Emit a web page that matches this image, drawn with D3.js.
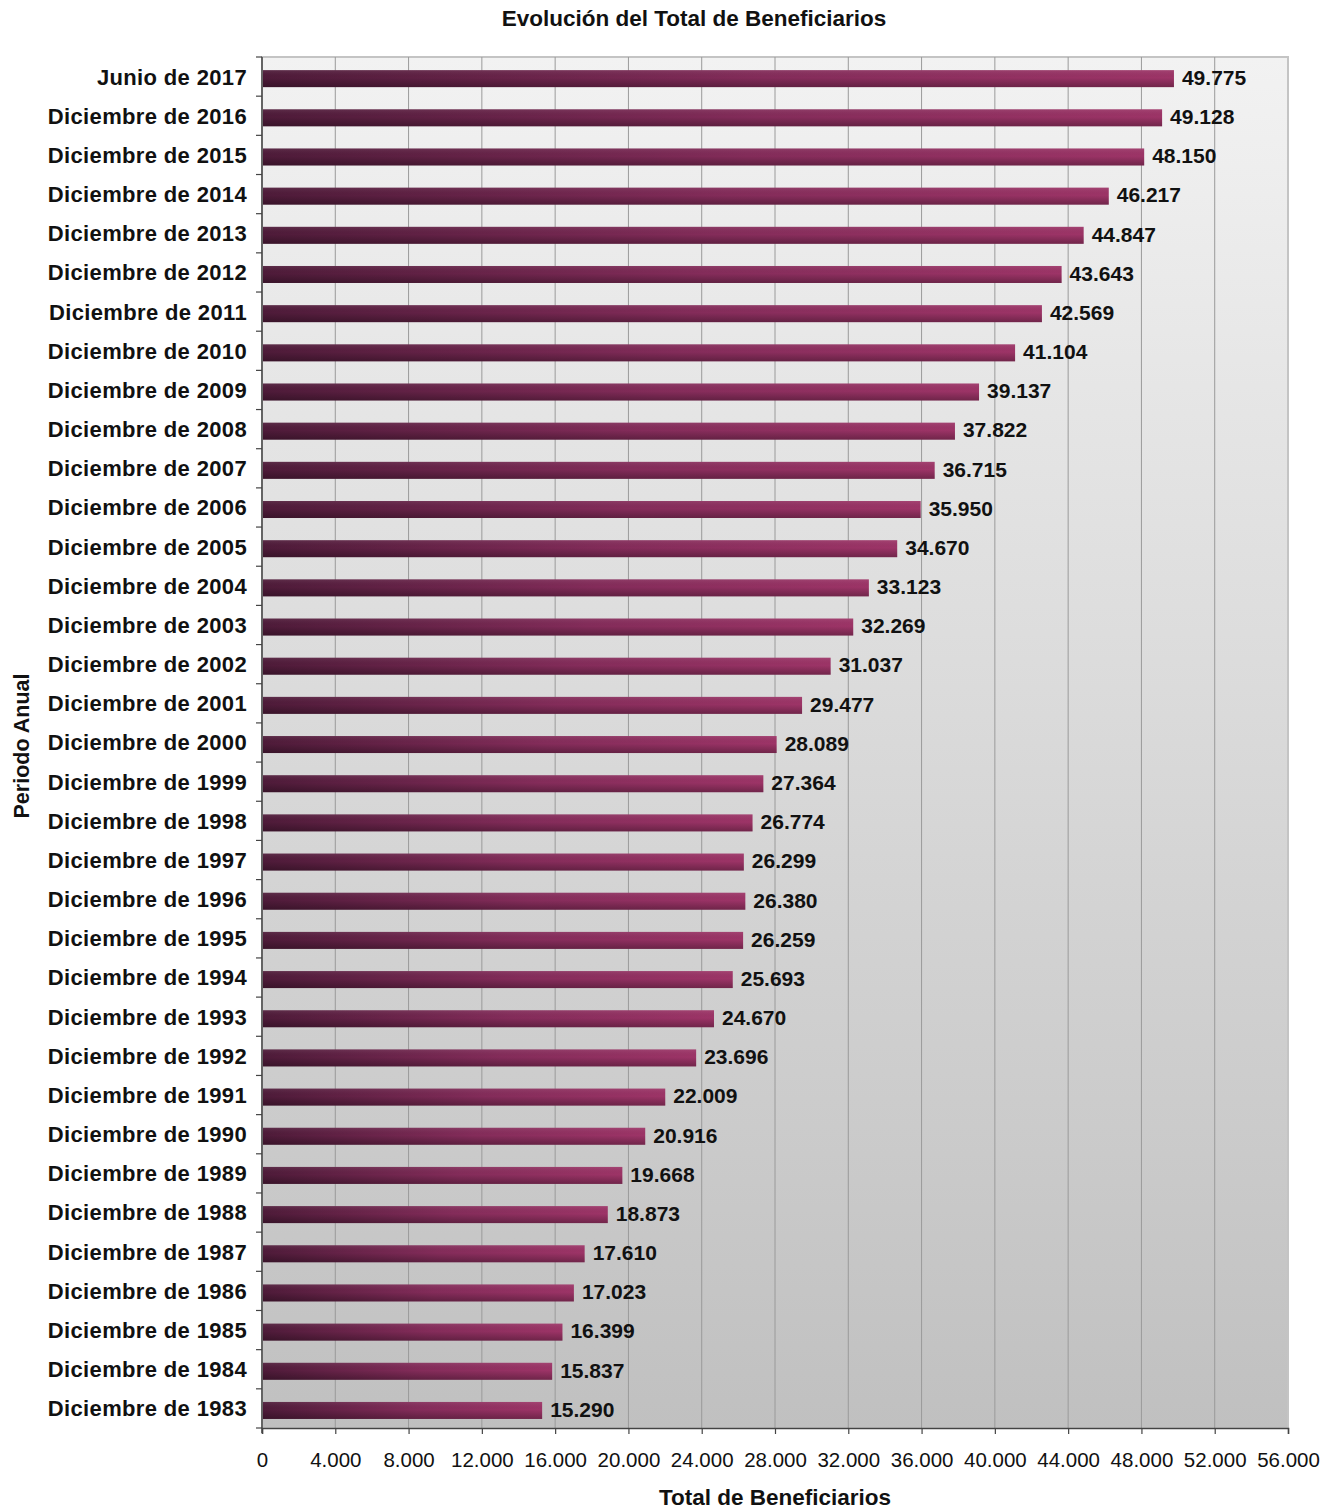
<!DOCTYPE html>
<meta charset="utf-8">
<style>
body { margin: 0; background: #fff; }
svg { font-family: "Liberation Sans", Arial, sans-serif; }
</style>
<body>
<div id="chart"></div>
<script src="https://d3js.org/d3.v7.min.js"></script>
<script>

var width = 1341,
    height = 1512;

var margin = {top: 57, right: 53, bottom: 84, left: 262};

var categories = ["Junio de 2017", "Diciembre de 2016", "Diciembre de 2015", "Diciembre de 2014",
    "Diciembre de 2013", "Diciembre de 2012", "Diciembre de 2011", "Diciembre de 2010",
    "Diciembre de 2009", "Diciembre de 2008", "Diciembre de 2007", "Diciembre de 2006",
    "Diciembre de 2005", "Diciembre de 2004", "Diciembre de 2003", "Diciembre de 2002",
    "Diciembre de 2001", "Diciembre de 2000", "Diciembre de 1999", "Diciembre de 1998",
    "Diciembre de 1997", "Diciembre de 1996", "Diciembre de 1995", "Diciembre de 1994",
    "Diciembre de 1993", "Diciembre de 1992", "Diciembre de 1991", "Diciembre de 1990",
    "Diciembre de 1989", "Diciembre de 1988", "Diciembre de 1987", "Diciembre de 1986",
    "Diciembre de 1985", "Diciembre de 1984", "Diciembre de 1983"];

var values = [49775, 49128, 48150, 46217, 44847, 43643, 42569, 41104, 39137, 37822,
    36715, 35950, 34670, 33123, 32269, 31037, 29477, 28089, 27364, 26774,
    26299, 26380, 26259, 25693, 24670, 23696, 22009, 20916, 19668, 18873,
    17610, 17023, 16399, 15837, 15290];

var xTicks = [0, 4000, 8000, 12000, 16000, 20000, 24000, 28000, 32000, 36000,
    40000, 44000, 48000, 52000, 56000];

var data = categories.map(function(c, i) { return {name: c, value: values[i]}; });

var plotW = width - margin.left - margin.right,
    plotH = height - margin.top - margin.bottom;

var svg = d3.select("#chart").append("svg")
    .attr("width", width)
    .attr("height", height);

var defs = svg.append("defs");

var bg = defs.append("linearGradient").attr("id", "bg")
    .attr("x1", 0).attr("y1", 0).attr("x2", 0).attr("y2", 1);
bg.append("stop").attr("offset", "0%").attr("stop-color", "#f2f2f2");
bg.append("stop").attr("offset", "100%").attr("stop-color", "#c0c0c0");

var barGrad = defs.append("linearGradient").attr("id", "barGrad")
    .attr("x1", 0).attr("y1", 0).attr("x2", 1).attr("y2", 0);
barGrad.append("stop").attr("offset", "0%").attr("stop-color", "#4e1b39");
barGrad.append("stop").attr("offset", "55%").attr("stop-color", "#842c5a");
barGrad.append("stop").attr("offset", "100%").attr("stop-color", "#9d3467");

var shade = defs.append("linearGradient").attr("id", "shade")
    .attr("x1", 0).attr("y1", 0).attr("x2", 0).attr("y2", 1);
shade.append("stop").attr("offset", "0%").attr("stop-color", "#fff").attr("stop-opacity", 0.08);
shade.append("stop").attr("offset", "45%").attr("stop-color", "#000").attr("stop-opacity", 0);
shade.append("stop").attr("offset", "100%").attr("stop-color", "#000").attr("stop-opacity", 0.28);

var x = d3.scaleLinear()
    .domain([0, 56000])
    .range([0, plotW]);

var y = d3.scaleBand()
    .domain(categories)
    .range([0, plotH])
    .padding(0);

var fmt = function(v) { return d3.format(",")(v).replace(/,/g, "."); };

var g = svg.append("g")
    .attr("transform", "translate(" + margin.left + "," + margin.top + ")");

// plot background
g.append("rect")
    .attr("width", plotW)
    .attr("height", plotH)
    .attr("fill", "url(#bg)")
    .attr("stroke", "#c4c4c4")
    .attr("stroke-width", 2);

// gridlines
g.selectAll(".grid")
    .data(xTicks.slice(1, -1))
  .enter().append("line")
    .attr("x1", function(d) { return x(d); })
    .attr("x2", function(d) { return x(d); })
    .attr("y1", 0)
    .attr("y2", plotH)
    .attr("stroke", "#9a9a9a")
    .attr("stroke-width", 1);

var bh = y.bandwidth() * 0.434,
    boff = y.bandwidth() * 0.335;

var bars = g.selectAll(".bar")
    .data(data)
  .enter().append("g");

bars.append("rect")
    .attr("x", 1)
    .attr("y", function(d) { return y(d.name) + boff; })
    .attr("width", function(d) { return x(d.value) - 1; })
    .attr("height", bh)
    .attr("fill", "url(#barGrad)");

bars.append("rect")
    .attr("x", 1)
    .attr("y", function(d) { return y(d.name) + boff; })
    .attr("width", function(d) { return x(d.value) - 1; })
    .attr("height", bh)
    .attr("fill", "url(#shade)");

bars.append("text")
    .attr("x", function(d) { return x(d.value) + 8; })
    .attr("y", function(d) { return y(d.name) + boff + bh / 2; })
    .attr("dy", "0.3em")
    .attr("font-size", "21px")
    .attr("font-weight", "bold")
    .attr("fill", "#111")
    .text(function(d) { return fmt(d.value); });

// category labels
g.selectAll(".cat")
    .data(categories)
  .enter().append("text")
    .attr("x", -15)
    .attr("y", function(d) { return y(d) + y.bandwidth() / 2; })
    .attr("dy", "0.36em")
    .attr("text-anchor", "end")
    .attr("font-size", "22px")
    .attr("font-weight", "bold")
    .attr("letter-spacing", "0.35px")
    .attr("fill", "#111")
    .text(function(d) { return d; });

// left axis with ticks at band boundaries
g.append("line")
    .attr("x1", 0).attr("x2", 0)
    .attr("y1", 0).attr("y2", plotH + 5)
    .attr("stroke", "#444").attr("stroke-width", 1.5);

g.selectAll(".ytick")
    .data(categories)
  .enter().append("line")
    .attr("x1", -6).attr("x2", 0)
    .attr("y1", function(d) { return y(d); })
    .attr("y2", function(d) { return y(d); })
    .attr("stroke", "#444").attr("stroke-width", 1.2);

g.append("line")
    .attr("x1", -6).attr("x2", 0)
    .attr("y1", plotH).attr("y2", plotH)
    .attr("stroke", "#444").attr("stroke-width", 1.2);

// bottom axis
var xAxis = g.append("g")
    .attr("transform", "translate(0," + plotH + ")")
    .call(d3.axisBottom(x).tickValues(xTicks).tickSize(6).tickPadding(18).tickFormat(fmt));

xAxis.select(".domain").attr("stroke", "#444").attr("stroke-width", 1.5);
xAxis.selectAll(".tick line").attr("stroke", "#444").attr("stroke-width", 1.2);
xAxis.selectAll(".tick text")
    .attr("font-family", "Liberation Sans, Arial, sans-serif")
    .attr("font-size", "20.5px")
    .attr("fill", "#111");

// titles
svg.append("text")
    .attr("x", 694)
    .attr("y", 26)
    .attr("text-anchor", "middle")
    .attr("font-size", "22.5px")
    .attr("font-weight", "bold")
    .attr("fill", "#111")
    .text("Evolución del Total de Beneficiarios");

svg.append("text")
    .attr("x", margin.left + plotW / 2)
    .attr("y", 1505)
    .attr("text-anchor", "middle")
    .attr("font-size", "22.5px")
    .attr("font-weight", "bold")
    .attr("fill", "#111")
    .text("Total de Beneficiarios");

svg.append("text")
    .attr("transform", "translate(29,746) rotate(-90)")
    .attr("text-anchor", "middle")
    .attr("font-size", "21.5px")
    .attr("font-weight", "bold")
    .attr("fill", "#111")
    .text("Periodo Anual");

</script>
